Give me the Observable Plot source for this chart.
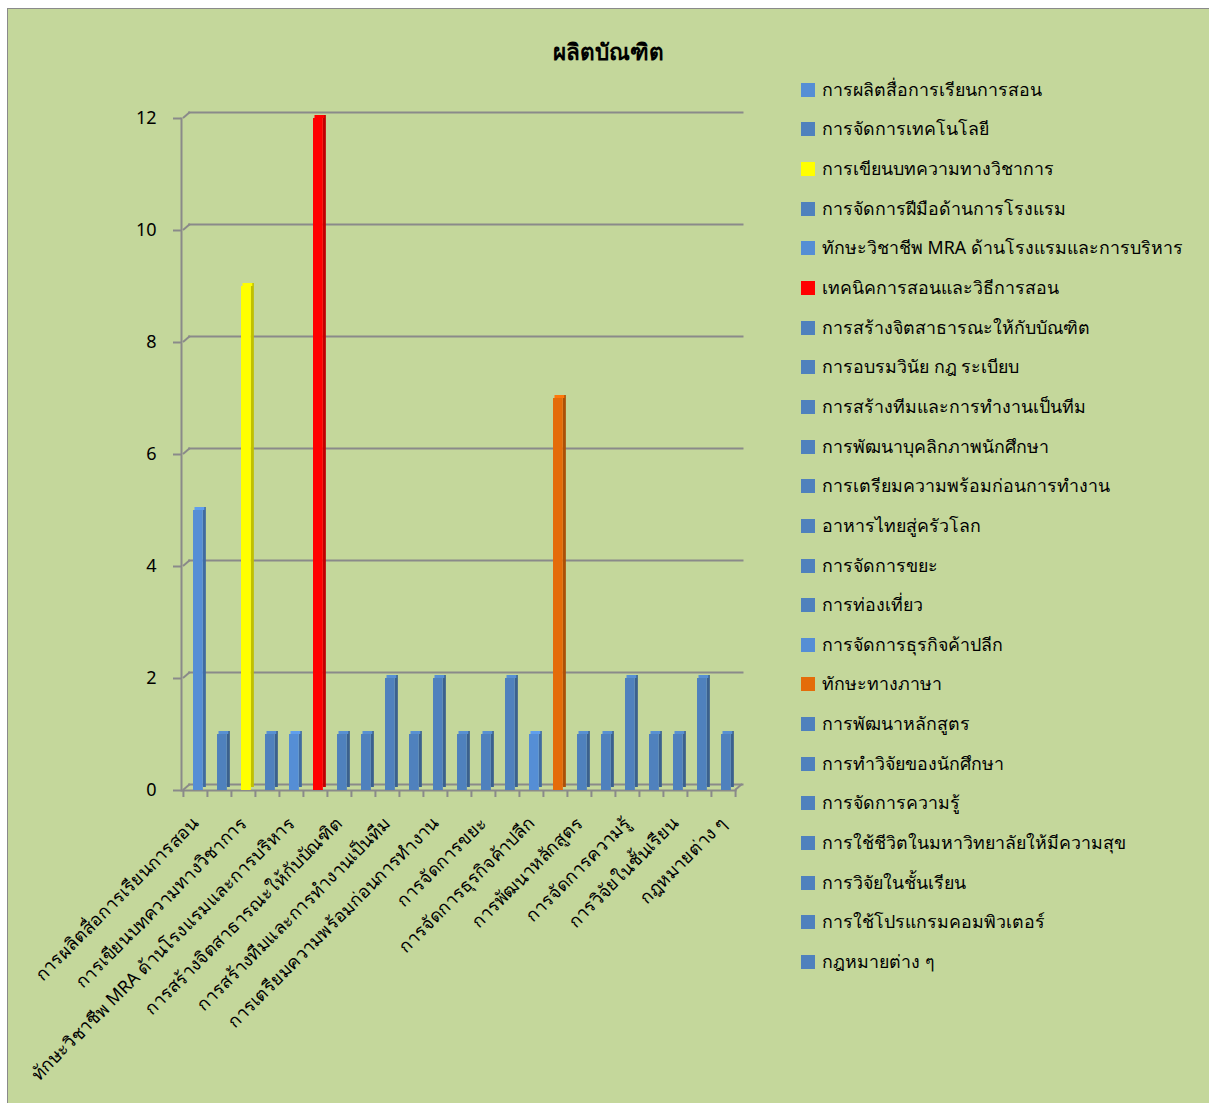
<!DOCTYPE html>
<html><head><meta charset="utf-8">
<script src="https://cdn.jsdelivr.net/npm/d3@7"></script>
<script src="https://cdn.jsdelivr.net/npm/@observablehq/plot@0.6"></script>
<style>
body{margin:0;background:#fff;font-family:"Noto Sans",Tahoma,sans-serif;}
#bg{position:absolute;left:7px;top:8px;width:1202px;height:1095px;background:#c4d79b;border-left:1px solid #8a8a8a;border-top:1px solid #8a8a8a;}
#title{position:absolute;left:8px;width:1201px;top:36px;text-align:center;font-weight:bold;font-size:22.5px;line-height:32px;}
#plot{position:absolute;left:0;top:0;}
#legend{position:absolute;left:801px;top:70px;}
.item{height:39.65px;display:flex;align-items:center;font-size:17.8px;white-space:nowrap;}
.sw{width:14px;height:14px;margin-right:7px;flex:none;}
</style></head>
<body>
<div id="bg"></div>
<div id="title">ผลิตบัณฑิต</div>
<div id="plot"></div>
<div id="legend"></div>
<script>
const categories = [
  "การผลิตสื่อการเรียนการสอน",
  "การจัดการเทคโนโลยี",
  "การเขียนบทความทางวิชาการ",
  "การจัดการฝีมือด้านการโรงแรม",
  "ทักษะวิชาชีพ MRA ด้านโรงแรมและการบริหาร",
  "เทคนิคการสอนและวิธีการสอน",
  "การสร้างจิตสาธารณะให้กับบัณฑิต",
  "การอบรมวินัย กฎ ระเบียบ",
  "การสร้างทีมและการทำงานเป็นทีม",
  "การพัฒนาบุคลิกภาพนักศึกษา",
  "การเตรียมความพร้อมก่อนการทำงาน",
  "อาหารไทยสู่ครัวโลก",
  "การจัดการขยะ",
  "การท่องเที่ยว",
  "การจัดการธุรกิจค้าปลีก",
  "ทักษะทางภาษา",
  "การพัฒนาหลักสูตร",
  "การทำวิจัยของนักศึกษา",
  "การจัดการความรู้",
  "การใช้ชีวิตในมหาวิทยาลัยให้มีความสุข",
  "การวิจัยในชั้นเรียน",
  "การใช้โปรแกรมคอมพิวเตอร์",
  "กฎหมายต่าง ๆ"
];
const values = [5,1,9,1,1,12,1,1,2,1,2,1,1,2,1,7,1,1,2,1,1,2,1];
const colors = ["#558ed5","#4f81bd","#ffff00","#4f81bd","#558ed5","#ff0000","#4f81bd","#4f81bd","#4f81bd","#4f81bd","#4f81bd","#4f81bd","#4f81bd","#4f81bd","#558ed5","#e46c0a","#4f81bd","#4f81bd","#4f81bd","#4f81bd","#4f81bd","#4f81bd","#4f81bd"];
const yTicks = [0,2,4,6,8,10,12];
const labelled = categories.filter((d,i)=>i%2===0);

const data = categories.map((c,i)=>({
  cat:c, value:values[i], color:colors[i],
  side:d3.color(colors[i]).darker(0.8).formatHex(),
  topc:d3.color(colors[i]).brighter(0.3).formatHex()
}));

const W = 780, H = 1103;
const pLeft = 181, pRight = 736.5, pTop = 118, pBottom = 790;
const step = (pRight-pLeft)/categories.length;
const grid = "#8a8a8a";
const font = '"Noto Sans",Tahoma,sans-serif';

const plot = Plot.plot({
  width: W, height: H,
  marginLeft: pLeft, marginRight: W-pRight, marginTop: pTop, marginBottom: H-pBottom,
  style: {background:"transparent", fontFamily: font, fontSize:"18px", color:"#000", overflow:"visible"},
  x: {domain: categories, padding: 0, axis: null},
  y: {domain: [0,12], axis: null},
  marks: [
    Plot.ruleY(yTicks, {dx: 7, dy: -6, stroke: grid, strokeWidth: 2}),
    Plot.ruleY([0], {stroke: grid, strokeWidth: 2}),
    Plot.frame({anchor:"left", stroke: grid, strokeWidth: 2}),
    Plot.axisY({ticks: yTicks, label: null, tickSize: 8, tickPadding: 17, stroke: grid, strokeWidth: 2, fill:"#000", fontSize: 18}),
    Plot.ruleX(categories, {x: d=>d, y1: 0, y2: 0, insetBottom: -7, dx: -step/2, stroke: grid, strokeWidth: 2}),
    Plot.ruleX(categories.slice(-1), {x: d=>d, y1: 0, y2: 0, insetBottom: -7, dx: step/2, stroke: grid, strokeWidth: 2}),
    Plot.barY(data, {x:"cat", y:"value", fill:"side", insetLeft: 20, insetRight: step-23, dy: -3}),
    Plot.barY(data, {x:"cat", y1:"value", y2:"value", fill:"topc", insetTop: -3, insetLeft: 10, insetRight: step-20, dx: 1.5}),
    Plot.barY(data, {x:"cat", y:"value", fill:"color", insetLeft: 10, insetRight: step-20}),
    Plot.text(labelled, {x: d=>d, y: 0, text: d=>d, rotate: -45, textAnchor: "end", lineAnchor: "middle", dx: 0, dy: 30, fontSize: 18, fill:"#000"})
  ]
});
document.getElementById("plot").appendChild(plot);

// 3D wall diagonals, placed through the plot's own scales
const ys = plot.scale("y");
const xs = plot.scale("x");
const svg = d3.select(plot);
const xl = xs.apply(categories[0]);
const xr = xs.apply(categories[categories.length-1]) + xs.bandwidth;
svg.append("g").attr("stroke", grid).attr("stroke-width", 2)
  .selectAll("line").data(yTicks).join("line")
  .attr("x1", xl).attr("y1", d=>ys.apply(d)).attr("x2", xl+7).attr("y2", d=>ys.apply(d)-6);
svg.append("line").attr("stroke", grid).attr("stroke-width", 2)
  .attr("x1", xr).attr("y1", ys.apply(0)).attr("x2", xr+7).attr("y2", ys.apply(0)-6);

// legend
const lg = d3.select("#legend");
const items = lg.selectAll("div").data(data).join("div").attr("class","item");
items.append("div").attr("class","sw").style("background", d=>d.color);
items.append("span").text(d=>d.cat);
</script>
</body></html>
